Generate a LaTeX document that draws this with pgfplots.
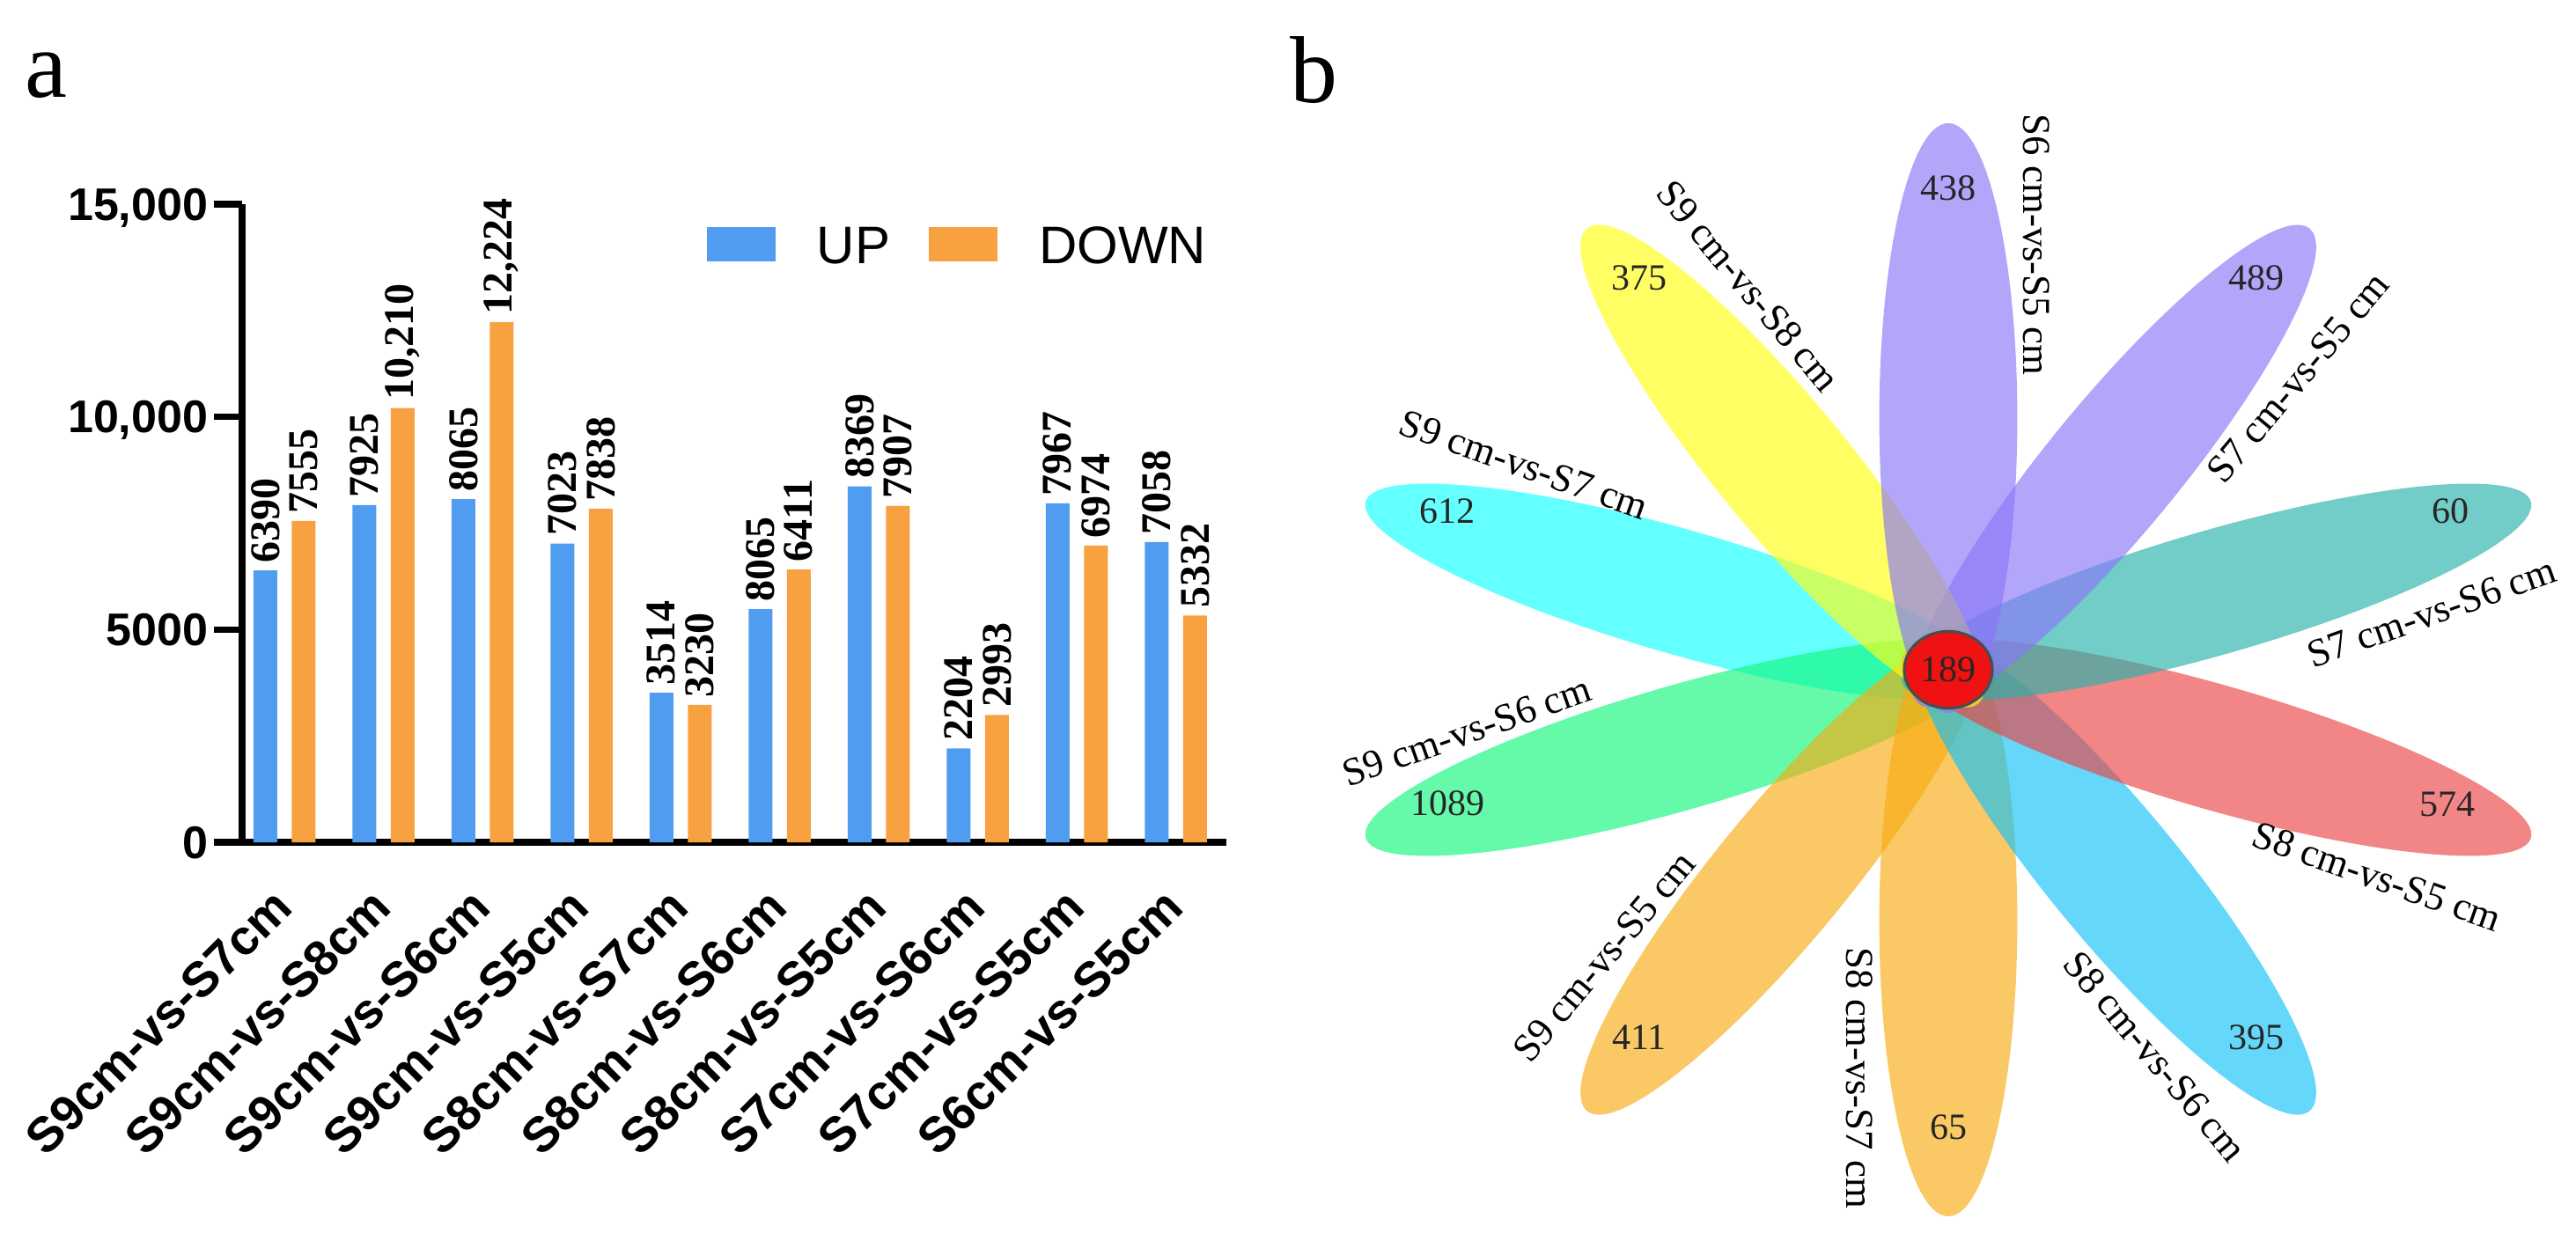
\documentclass[border=0pt]{standalone}
\usepackage{fontspec}
\setmainfont{Liberation Serif}
\newfontfamily\arial{Liberation Sans}
\usepackage{graphicx}
\usepackage{pgfplots}
\pgfplotsset{compat=1.18}

\definecolor{upblue}{HTML}{509CF1}
\definecolor{downorange}{HTML}{F8A141}
% petal colours (drawn with opacity)
\definecolor{pcyan}{RGB}{17,255,255}
\definecolor{pgreen}{RGB}{17,248,125}
\definecolor{pyellow}{RGB}{255,255,17}
\definecolor{porange}{RGB}{248,171,17}
\definecolor{pblue}{RGB}{17,194,248}
\definecolor{pred}{RGB}{235,68,68}
\definecolor{pteal}{RGB}{38,178,171}
\definecolor{ppurple}{RGB}{137,118,248}
\definecolor{coreRed}{RGB}{240,18,18}

\tikzset{
  petal/.style={fill=#1, fill opacity=0.65},
  plab/.style={font=\fontsize{11.2}{11.2}\selectfont, inner sep=0pt, anchor=center},
}

% 1 px of the reference = 0.25pt
\begin{document}
\begin{tikzpicture}
\useasboundingbox (0pt,0pt) rectangle (731.5pt,354.25pt);

% panel labels
\node[anchor=base west, inner sep=0pt, font=\fontsize{27}{27}\selectfont] at (7pt,326.5pt) {a};
\node[anchor=base west, inner sep=0pt, font=\fontsize{27}{27}\selectfont] at (366.25pt,325pt) {b};

% ---------- a: bar chart ----------
\begin{axis}[
    at={(68.75pt,115pt)}, anchor=south west,
    scale only axis, width=279.5pt, height=181.25pt,
    xmin=-0.427, xmax=9.51, ymin=0, ymax=15000,
    axis lines*=left,
    axis line style={line width=2pt, black},
    clip=false,
    tick align=outside, major tick length=8pt,
    scaled y ticks=false,
    ytick={0,5000,10000,15000},
    yticklabels={0,5000,{10,000},{15,000}},
    ytick style={line width=1.9pt, black},
    yticklabel style={font=\arial\bfseries\fontsize{13}{13}\selectfont,
        inner sep=0pt, text depth=0pt, anchor=east, xshift=-1.5pt},
    xtick={0,...,9},
    xticklabels={S9cm-vs-S7cm,S9cm-vs-S8cm,S9cm-vs-S6cm,S9cm-vs-S5cm,S8cm-vs-S7cm,
        S8cm-vs-S6cm,S8cm-vs-S5cm,S7cm-vs-S6cm,S7cm-vs-S5cm,S6cm-vs-S5cm},
    xtick style={draw=none},
    xticklabel style={font=\arial\bfseries\fontsize{14}{14}\selectfont,
        inner sep=0pt, anchor=north east, xshift=-4pt, yshift=-4pt, rotate=45},
    legend style={draw=none, fill=none, at={(0.4714,0.9317)}, anchor=west,
        legend columns=2, inner sep=0pt, nodes={inner sep=0pt},
        font=\arial\fontsize{15}{15}\selectfont,
        /tikz/every odd column/.append style={column sep=11.75pt},
        /tikz/every even column/.append style={column sep=11pt}},
    legend image code/.code={\fill[#1] (0pt,-3.9pt) rectangle (19.5pt,5.85pt);},
    every node near coord/.append style={anchor=south, inner sep=2pt,
        font=\bfseries\fontsize{12}{12}\selectfont},
]
\addplot[ybar, bar width=6.75pt, bar shift=-5.44pt, fill=upblue, draw=none,
    nodes near coords={\rotatebox{90}{\pgfplotspointmeta}},
    every node near coord/.append style={xshift=-5.44pt},
    point meta=explicit symbolic]
    coordinates {
    (0,6390)[6390] (1,7925)[7925] (2,8065)[8065] (3,7023)[7023] (4,3514)[3514]
    (5,5480)[8065] (6,8369)[8369] (7,2204)[2204] (8,7967)[7967] (9,7058)[7058]
    };
\addplot[ybar, bar width=6.75pt, bar shift=5.44pt, fill=downorange, draw=none,
    nodes near coords={\rotatebox{90}{\pgfplotspointmeta}},
    every node near coord/.append style={xshift=5.44pt},
    point meta=explicit symbolic]
    coordinates {
    (0,7555)[7555] (1,10210)[{10,210}] (2,12224)[{12,224}] (3,7838)[7838] (4,3230)[3230]
    (5,6411)[6411] (6,7907)[7907] (7,2993)[2993] (8,6974)[6974] (9,5332)[5332]
    };
\legend{UP,DOWN}
\end{axis}

% ---------- b: flower diagram ----------
\begin{axis}[
    at={(365pt,0pt)}, anchor=south west,
    scale only axis, width=366.5pt, height=354.25pt,
    xmin=1460, xmax=2926, ymin=0, ymax=1417,
    hide axis, clip=false,
]
\begin{scope}[shift={(axis cs:2213,656)}, xscale=1.12]
  \fill[petal=pcyan, rotate=162]   (71.5pt,0pt) ellipse [x radius=83.75pt, y radius=17.5pt];
  \fill[petal=pgreen, rotate=198]  (71.5pt,0pt) ellipse [x radius=83.75pt, y radius=17.5pt];
  \fill[petal=porange, rotate=234] (71.5pt,0pt) ellipse [x radius=83.75pt, y radius=17.5pt];
  \fill[petal=porange, rotate=270] (71.5pt,0pt) ellipse [x radius=83.75pt, y radius=17.5pt];
  \fill[petal=pblue, rotate=306]   (71.5pt,0pt) ellipse [x radius=83.75pt, y radius=17.5pt];
  \fill[petal=pred, rotate=342]    (71.5pt,0pt) ellipse [x radius=83.75pt, y radius=17.5pt];
  \fill[petal=pteal, rotate=18]    (71.5pt,0pt) ellipse [x radius=83.75pt, y radius=17.5pt];
  \fill[petal=ppurple, rotate=54]  (71.5pt,0pt) ellipse [x radius=83.75pt, y radius=17.5pt];
  \fill[petal=pyellow, rotate=126] (71.5pt,0pt) ellipse [x radius=83.75pt, y radius=17.5pt];
  \fill[petal=ppurple, rotate=90]  (71.5pt,0pt) ellipse [x radius=83.75pt, y radius=17.5pt];
\end{scope}
\filldraw[fill=coreRed, draw=black!70, line width=0.8pt]
    (axis cs:2213,656) ellipse [x radius=12.5pt, y radius=10.9pt];

\addplot[draw=none, nodes near coords, point meta=explicit symbolic,
    every node near coord/.append style={anchor=center, inner sep=0pt,
        text=black!85, font=\fontsize{10.5}{10.5}\selectfont}]
    coordinates {
    (2213,1203)[438] (1862,1101)[375] (2563,1101)[489] (1644,836)[612]
    (2783,836)[60] (1644,504)[1089] (2780,503)[574] (1862,238)[411]
    (2563,238)[395] (2213,136)[65] (2213,656)[189]
    };

\node[plab, rotate=-90]   at (axis cs:2313,1139) {S6 cm-vs-S5 cm};
\node[plab, rotate=-50]   at (axis cs:1986,1092) {S9 cm-vs-S8 cm};
\node[plab, rotate=50]    at (axis cs:2610,988)  {S7 cm-vs-S5 cm};
\node[plab, rotate=-19.5] at (axis cs:1731,889)  {S9 cm-vs-S7 cm};
\node[plab, rotate=19.5]  at (axis cs:2762,721)  {S7 cm-vs-S6 cm};
\node[plab, rotate=19.5]  at (axis cs:1666,586)  {S9 cm-vs-S6 cm};
\node[plab, rotate=-19.5] at (axis cs:2700,421)  {S8 cm-vs-S5 cm};
\node[plab, rotate=50]    at (axis cs:1822,330)  {S9 cm-vs-S5 cm};
\node[plab, rotate=-90]   at (axis cs:2112,192)  {S8 cm-vs-S7 cm};
\node[plab, rotate=-50]   at (axis cs:2448,217)  {S8 cm-vs-S6 cm};
\end{axis}
\end{tikzpicture}
\end{document}
